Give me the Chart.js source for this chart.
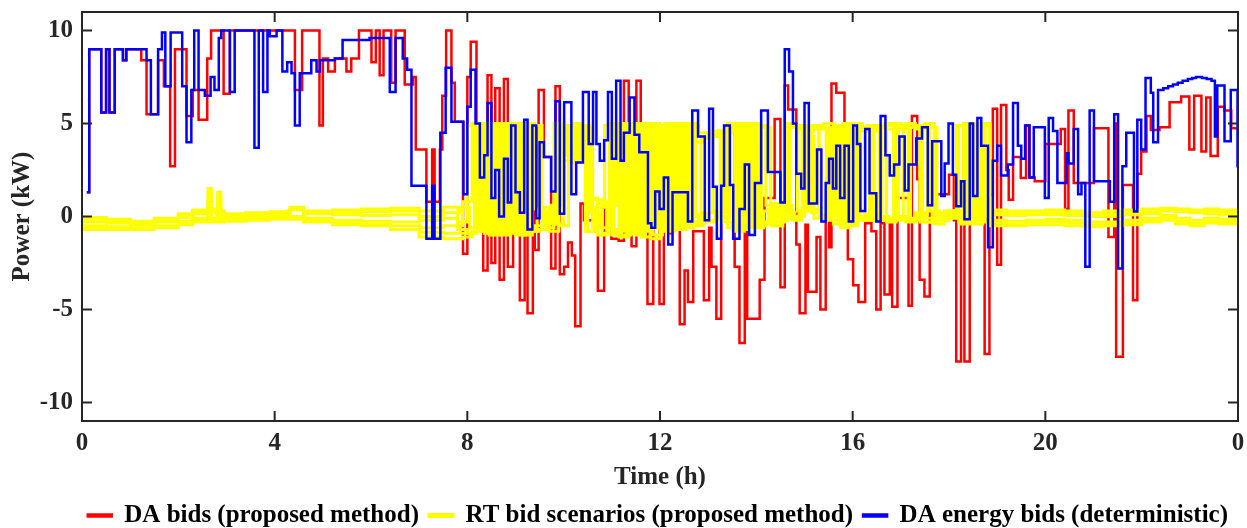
<!DOCTYPE html>
<html>
<head>
<meta charset="utf-8">
<script src="https://cdn.jsdelivr.net/npm/chart.js@4.4.1/dist/chart.umd.min.js"></script>
<style>
html, body { margin: 0; padding: 0; background: #fff; }
</style>
</head>
<body>
<canvas id="myChart" width="1247" height="528"></canvas>
<script>
// Osi
const xTicks = [0, 4, 8, 12, 16, 20, 24];
const xTickLabels = ["0", "4", "8", "12", "16", "20", "0"];
const yTicks = [-10, -5, 0, 5, 10];

// DA bids (proposed method) - casy zmien (h) a hodnoty (kW)
const daBidsT = [0.1, 0.15, 0.4, 0.5, 0.57, 0.68, 0.85, 0.92, 1.23, 1.34, 1.58, 1.7, 1.83, 1.93, 2.17, 2.3, 2.42, 2.6, 2.68, 2.94,
    3.07, 4.42, 4.57, 4.93, 5.0, 5.11, 5.25, 5.49, 5.59, 5.75, 6.01, 6.1, 6.18, 6.26, 6.42, 6.51, 6.7, 6.87, 6.93, 7.15,
    7.27, 7.32, 7.43, 7.48, 7.56, 7.67, 7.74, 7.91, 8.0, 8.07, 8.19, 8.33, 8.42, 8.5, 8.58, 8.67, 8.76, 8.84, 8.95, 9.09,
    9.19, 9.25, 9.36, 9.4, 9.48, 9.59, 9.74, 9.83, 9.92, 10.01, 10.09, 10.17, 10.24, 10.35, 10.42, 10.71, 10.84, 10.99, 11.14, 11.25,
    11.35, 11.41, 11.51, 11.6, 11.74, 11.86, 11.99, 12.08, 12.17, 12.26, 12.41, 12.51, 12.58, 12.69, 12.91, 13.02, 13.07, 13.17, 13.27, 13.33,
    13.55, 13.65, 13.76, 13.81, 14.07, 14.17, 14.38, 14.5, 14.59, 14.66, 14.83, 14.9, 15.02, 15.07, 15.25, 15.33, 15.44, 15.51, 15.56, 15.66,
    15.83, 15.9, 16.01, 16.12, 16.26, 16.39, 16.49, 16.58, 16.66, 16.77, 16.82, 16.93, 17.16, 17.23, 17.34, 17.39, 17.49, 17.6, 17.74, 18.0,
    18.1, 18.15, 18.25, 18.32, 18.43, 18.5, 18.67, 18.74, 18.84, 18.91, 19.0, 19.08, 19.19, 19.24, 19.33, 19.49, 19.6, 19.67, 19.78, 20.0,
    20.32, 20.41, 20.48, 20.59, 21.01, 21.31, 21.43, 21.47, 21.61, 21.82, 21.91, 21.99, 22.1, 22.19, 22.37, 22.58, 22.82, 22.99, 23.09, 23.24,
    23.34, 23.43, 23.58, 23.72, 23.86, 24];
const daBidsV = [1.3, 9.0, 5.6, 9.0, 5.6, 9.0, 8.4, 9.0, 8.4, 5.5, 8.4, 7.0, 2.7, 9.0, 5.4, 6.8, 5.2, 8.5, 10, 6.6,
    10, 6.8, 10, 4.9, 8.5, 7.8, 8.5, 7.8, 8.5, 10, 8.3, 10, 7.6, 10, 7.2, 10, 7.1, 7.5, 3.6, 0.8,
    3.6, 0.8, 3.6, 6.5, 10, 7.2, 5.1, -2.0, 7.5, 9.4, 1.8, -2.9, 7.6, -2.5, 6.9, -3.4, 7.4, -2.7, 2.0, -4.5,
    1.0, -5.2, 0.5, -1.8, 6.8, 3.2, -2.8, 7.0, -3.1, -2.7, -1.4, -2.1, -5.9, 0.7, -0.2, -4.0, 0.45, -1.2, -1.3, 7.3,
    1.0, -1.6, 7.3, 4.2, -4.7, 3.2, -4.7, 2.1, -0.9, 1.3, -5.8, -2.9, -4.6, -0.8, -4.5, -0.6, -2.7, -5.5, 1.65, 4.5,
    -2.7, -6.8, -0.6, -5.5, -3.4, 1.0, 5.25, -3.8, 7.05, 5.75, -1.5, -5.2, -0.45, -4.05, -1.1, -5.0, -0.15, -1.65, 7.15, 6.65,
    1.2, -2.3, -3.7, -4.6, -0.36, -0.8, -5.0, -0.36, -4.2, -0.36, -4.85, 1.0, -4.8, 5.4, 2.0, -3.4, -4.3, 0.6, 1.2, 2.25,
    -0.2, -7.8, -0.2, -7.8, 2.5, 4.05, 1.0, -7.4, 1.17, 5.8, -2.6, 6.0, 2.5, 0.9, 3.2, 2.07, 4.9, 2.1, 1.9, 3.9,
    4.7, 0.4, 5.7, 1.8, 4.75, -1.1, 5.0, -7.55, 1.7, -4.5, 2.3, 3.5, 5.4, 4.65, 4.8, 6.15, 6.45, 3.6, 6.5, 3.5,
    6.4, 3.25, 5.9, 5.7, 4.75, 4.75];

// DA energy bids (deterministic)
const detBidsT = [0.1, 0.15, 0.4, 0.5, 0.57, 0.68, 0.85, 0.92, 1.34, 1.43, 1.58, 1.66, 1.73, 1.84, 2.08, 2.17, 2.27, 2.33, 2.42, 2.55,
    2.67, 2.75, 2.84, 2.89, 3.07, 3.17, 3.58, 3.67, 3.76, 3.85, 3.9, 4.04, 4.16, 4.26, 4.35, 4.42, 4.52, 4.76, 4.87, 4.94,
    5.25, 5.41, 5.97, 6.39, 6.51, 6.66, 6.75, 6.84, 7.15, 7.27, 7.32, 7.44, 7.55, 7.67, 7.92, 8.0, 8.07, 8.17, 8.26, 8.35,
    8.42, 8.5, 8.58, 8.66, 8.76, 8.84, 8.91, 9.0, 9.09, 9.18, 9.25, 9.35, 9.43, 9.5, 9.59, 9.74, 9.83, 9.92, 10.01, 10.16,
    10.26, 10.4, 10.52, 10.61, 10.68, 10.75, 10.84, 10.92, 11.0, 11.09, 11.18, 11.25, 11.37, 11.47, 11.57, 11.75, 11.82, 11.9, 11.99, 12.08,
    12.17, 12.26, 12.58, 12.67, 12.79, 12.93, 13.02, 13.1, 13.18, 13.27, 13.33, 13.45, 13.52, 13.65, 13.76, 13.85, 13.97, 14.1, 14.24, 14.5,
    14.59, 14.68, 14.76, 14.83, 14.93, 15.0, 15.09, 15.26, 15.35, 15.44, 15.51, 15.59, 15.66, 15.74, 15.83, 15.92, 16.01, 16.09, 16.16, 16.26,
    16.35, 16.49, 16.58, 16.68, 16.77, 16.86, 16.97, 17.08, 17.16, 17.32, 17.44, 17.56, 17.65, 17.84, 17.91, 17.99, 18.08, 18.15, 18.25, 18.32,
    18.43, 18.5, 18.59, 18.67, 18.81, 18.91, 19.0, 19.08, 19.22, 19.33, 19.43, 19.5, 19.58, 19.67, 19.76, 19.99, 20.07, 20.16, 20.25, 20.44,
    20.48, 20.59, 20.68, 20.75, 20.83, 20.92, 21.01, 21.34, 21.43, 21.51, 21.6, 21.68, 21.84, 21.91, 21.99, 22.08, 22.19, 22.24, 22.34, 22.45,
    22.55, 22.65, 22.75, 22.85, 22.96, 23.05, 23.13, 23.25, 23.35, 23.45, 23.52, 23.57, 23.72, 23.85, 23.99, 24];
const detBidsV = [1.3, 9.0, 5.6, 9.0, 5.6, 9.0, 8.4, 9.0, 8.4, 5.5, 9.0, 9.9, 7.0, 9.9, 7.0, 4.0, 6.8, 10, 6.8, 6.5,
    7.5, 6.8, 9.6, 10, 6.7, 10, 3.7, 10, 6.7, 10, 9.7, 10, 7.8, 8.3, 7.7, 4.9, 7.7, 8.4, 7.8, 8.4,
    8.5, 9.5, 9.6, 6.7, 9.6, 8.5, 7.9, 1.65, -1.2, 1.65, -1.2, 4.5, 8.0, 5.1, 1.2, 5.9, 7.9, 5.0, 2.1, 3.3,
    6.1, 1.0, 2.5, 0.0, 3.1, 0.75, 4.9, 1.3, 0.2, 5.2, -0.7, 4.9, -0.1, 4.0, 3.2, 1.35, 6.2, 0.15, 6.15, 1.2,
    2.9, 6.7, 3.9, 6.7, 3.9, 3.0, 4.1, 6.7, 3.1, 7.3, 3.0, 4.5, 6.4, 4.4, 3.45, -0.36, -0.6, 1.35, 0.4, 2.1,
    -1.5, 1.3, -0.27, 5.7, 4.3, -0.2, 5.8, 1.6, -1.2, 1.65, 4.9, 1.7, -1.2, 0.4, 2.8, -1.0, 1.8, 5.7, 2.4, 0.75,
    9.0, 7.8, 5.0, 2.3, 1.5, 6.1, 0.7, 3.6, -0.27, 1.8, 3.1, 1.5, 3.8, 1.0, 3.8, -0.27, 4.9, 3.9, 0.3, 4.7,
    1.25, -0.27, 5.4, 3.3, 2.2, 2.8, 4.3, 1.4, 2.8, 4.2, 4.8, 0.6, 4.05, 1.1, 2.85, 5.0, 2.25, 0.55, 1.9, -0.15,
    5.0, 1.1, 5.3, 3.8, -1.65, 3.0, 3.8, 2.2, 2.8, 6.1, 3.8, 3.1, 4.9, 2.1, 4.8, 1.0, 5.3, 4.6, 1.8, 3.4,
    2.85, 4.7, 1.2, 1.8, -2.7, 5.7, 1.9, 0.8, 5.5, -2.8, 2.7, 4.5, 0.27, 5.2, 3.6, 7.45, 6.65, 4.0, 6.8, 6.9,
    7.0, 7.1, 7.2, 7.3, 7.4, 7.45, 7.5, 7.45, 7.4, 7.3, 4.3, 7.05, 4.05, 6.8, 2.7, 2.7];

// RT bid scenarios (proposed method): casy zmien
const bandLeftT = [0, 0.5, 1.0, 1.5, 2.0, 2.3, 2.62, 2.68, 2.75, 2.82, 2.88, 2.95, 3.4, 3.9, 4.25, 4.32, 4.6, 5.2, 5.8, 6.4, 7.0, 7.5];
const midTA = [7.8, 8.0, 8.2, 8.4, 8.6, 8.8, 9.0, 9.2, 9.4, 9.6, 9.8, 10.0, 10.2, 10.4, 10.6, 10.8, 11.0, 11.2, 11.4, 11.6,
    11.8, 12.0, 12.2, 12.4, 12.6, 12.8, 13.0, 13.2, 13.4, 13.6, 13.8, 14.0, 14.2, 14.4, 14.6, 14.8, 15.0, 15.2, 15.4, 15.6,
    15.8, 16.0, 16.2, 16.4, 16.6, 16.8, 17.0, 17.2, 17.4, 17.6, 17.8, 18.0, 18.2, 18.4, 18.6];
const midTB = [7.9, 8.1, 8.3, 8.5, 8.7, 8.9, 9.1, 9.3, 9.5, 9.7, 9.9, 10.1, 10.3, 10.5, 10.7, 10.9, 11.1, 11.3, 11.5, 11.7,
    11.9, 12.1, 12.3, 12.5, 12.7, 12.9, 13.1, 13.3, 13.5, 13.7, 13.9, 14.1, 14.3, 14.5, 14.7, 14.9, 15.1, 15.3, 15.5, 15.7,
    15.9, 16.1, 16.3, 16.5, 16.7, 16.9, 17.1, 17.3, 17.5, 17.7, 17.9, 18.1, 18.3, 18.5, 18.7];
const midTC = [7.85, 8.05, 8.25, 8.45, 8.65, 8.85, 9.05, 9.25, 9.45, 9.65, 9.85, 10.05, 10.25, 10.45, 10.65, 10.85, 11.05, 11.25, 11.45, 11.65,
    11.85, 12.05, 12.25, 12.45, 12.65, 12.85, 13.05, 13.25, 13.45, 13.65, 13.85, 14.05, 14.25, 14.45, 14.65, 14.85, 15.05, 15.25, 15.45, 15.65,
    15.85, 16.05, 16.25, 16.45, 16.65, 16.85, 17.05, 17.25, 17.45, 17.65, 17.85, 18.05, 18.25, 18.45, 18.65];
const midTD = [7.95, 8.15, 8.35, 8.55, 8.75, 8.95, 9.15, 9.35, 9.55, 9.75, 9.95, 10.15, 10.35, 10.55, 10.75, 10.95, 11.15, 11.35, 11.55, 11.75,
    11.95, 12.15, 12.35, 12.55, 12.75, 12.95, 13.15, 13.35, 13.55, 13.75, 13.95, 14.15, 14.35, 14.55, 14.75, 14.95, 15.15, 15.35, 15.55, 15.75,
    15.95, 16.15, 16.35, 16.55, 16.75, 16.95, 17.15, 17.35, 17.55, 17.75, 17.95, 18.15, 18.35, 18.55, 18.75];
const bandRightT = [18.85, 19.2, 19.6, 20.0, 20.4, 20.8, 21.2, 21.6, 22.0, 22.4, 22.7, 23.0, 23.3, 23.6, 24];

// hodnoty scenarov
const rt1Left = [-0.05, -0.15, -0.25, -0.1, 0.15, 0.35, 1.5, 0.4, 0.4, 1.3, 0.3, 0.15, 0.2, 0.25, 0.3, 0.5, 0.3, 0.35, 0.4, 0.45, 0.3, 0.5];
const rt2Left = [-0.3, -0.35, -0.45, -0.3, -0.05, 0.15, 1.2, 0.2, 0.2, 1.0, 0.1, 0.0, 0.05, 0.1, 0.15, 0.35, 0.15, 0.1, 0.05, 0.1, -0.2, -0.1];
const rt3Left = [-0.5, -0.55, -0.6, -0.5, -0.25, -0.1, 0.8, -0.1, -0.1, 0.6, -0.15, -0.1, -0.05, 0.0, 0.0, 0.0, -0.1, -0.2, -0.25, -0.3, -0.6, -0.5];
const rt4Left = [-0.7, -0.7, -0.7, -0.6, -0.45, -0.3, 0.4, -0.3, -0.3, 0.2, -0.3, -0.25, -0.2, -0.15, -0.15, -0.15, -0.3, -0.45, -0.5, -0.7, -1.1, -1.2];
const rt5Left = [-0.15, -0.25, -0.35, -0.2, 0.05, 0.25, 1.35, 0.3, 0.3, 1.15, 0.2, 0.1, 0.1, 0.2, 0.2, 0.45, 0.2, 0.2, 0.25, 0.3, 0.0, 0.2];
const rt6Left = [-0.6, -0.65, -0.65, -0.55, -0.35, -0.2, 0.6, -0.2, -0.2, 0.4, -0.2, -0.2, -0.1, -0.1, -0.05, -0.05, -0.2, -0.35, -0.4, -0.5, -0.85, -0.9];

const rt1Mid = [-0.3, 4.9, -0.8, 5.0, -0.9, 4.9, -1.0, 5.0, 0.4, -0.6,
    5.0, 3.0, 5.0, 3.2, 0.9, -0.9, 5.0, -1.0, 4.9, -1.1,
    5.0, -0.7, 5.0, -0.5, 4.9, 4.5, 4.4, 4.6, -0.6, 5.0,
    -0.4, 4.9, 0.6, -0.3, 5.0, 4.8, 4.6, 4.9, 5.0, -0.4,
    5.0, 5.0, 4.8, -0.2, 4.9, 5.0, 4.7, -0.1, 4.9, 0.3,
    0.2, 0.1, 4.9, -0.2, 5.0];
const rt2Mid = [-0.7, -0.9, 4.9, -0.6, 5.0, -0.8, 4.8, -0.7, -0.5, 0.5,
    -0.4, 4.9, 3.4, 4.8, -0.6, 0.8, -1.0, 4.9, -0.8, 5.0,
    -1.2, 4.9, -0.5, 5.0, -0.3, 0.1, -0.2, 0.0, 5.0, -0.7,
    4.8, -0.5, -0.4, 0.5, 0.2, 0.0, 4.3, -0.1, 0.1, 4.9,
    -0.3, -0.1, 0.0, 4.6, -0.2, -0.1, 0.0, 4.8, -0.3, -0.3,
    -0.2, 0.0, -0.3, 5.0, -0.2];
const rt3Mid = [0.8, 5.0, -0.7, 4.8, -1.0, 5.0, -0.9, 4.9, 0.2, -0.8,
    4.8, 2.9, 4.9, 1.0, -1.0, 0.6, 4.9, -0.9, 5.0, -0.6,
    4.8, -0.8, 4.9, -0.6, 4.0, 4.2, 0.3, 4.5, 4.9, -0.6,
    5.0, -0.3, 0.7, 0.0, 4.9, 4.7, 0.4, 4.8, -0.2, 4.9,
    -0.5, 4.6, 4.9, 4.8, -0.3, 4.9, 5.0, 4.7, 5.0, 0.0,
    0.3, -0.1, 5.0, -0.4, 4.9];
const rt4Mid = [-1.1, -0.8, 5.0, -0.9, 4.9, -0.7, 5.0, -0.8, -0.7, 0.4,
    -0.5, 4.7, 3.6, -0.8, 0.7, -0.9, -0.7, 5.0, -1.0, 4.9,
    -0.6, 5.0, -0.7, 4.8, -0.5, 0.2, 4.3, -0.3, -0.7, 4.9,
    -0.5, 4.8, -0.5, 0.3, -0.1, 0.3, 4.9, 0.0, 4.6, -0.4,
    5.0, -0.2, 0.1, -0.1, 4.7, 0.0, -0.3, 0.2, -0.1, -0.4,
    0.1, 0.2, -0.3, 4.8, -0.1];
const rt5Mid = [0.5, -0.6, 4.8, -1.0, 5.0, -0.9, 4.9, -0.8, 0.3, -0.4,
    4.9, 3.3, 4.8, -0.8, 0.5, 4.9, -0.8, 5.0, -0.9, 4.8,
    -1.0, 4.9, -0.6, 4.9, -0.4, 4.3, 4.6, -0.1, 4.9, -0.6,
    5.0, -0.4, 0.4, -0.2, 4.8, 0.3, 4.9, 4.7, 0.1, 4.9,
    -0.4, 4.8, -0.1, 4.9, 5.0, -0.2, 4.8, 4.9, -0.3, 0.2,
    -0.1, 0.3, -0.4, 4.9, -0.3];
const rt6Mid = [-0.9, 4.9, -0.9, 5.0, -0.8, 4.8, -1.0, 4.9, -0.3, 0.6,
    4.6, 3.1, 4.9, 0.2, -0.6, 5.0, -1.1, 4.9, -0.8, 5.0,
    -0.5, 4.8, -0.7, 5.0, 0.0, -0.3, 0.2, 4.9, -0.8, 5.0,
    -0.6, 0.3, -0.5, 0.6, -0.2, 4.9, 0.2, -0.1, 4.8, -0.6,
    4.9, -0.2, 4.7, 0.0, -0.1, 4.9, -0.2, 0.1, 4.8, -0.2,
    0.3, 4.9, -0.3, 5.0, -0.2];

const rt1Right = [0.35, 0.3, 0.3, 0.35, 0.3, 0.2, 0.3, 0.35, 0.4, 0.45, 0.4, 0.35, 0.4, 0.35, 0.4];
const rt2Right = [0.1, 0.05, 0.1, 0.1, 0.05, 0.0, 0.0, 0.1, 0.15, 0.3, 0.25, 0.2, 0.15, 0.1, 0.2];
const rt3Right = [-0.2, -0.25, -0.2, -0.15, -0.2, -0.3, -0.3, -0.2, -0.1, 0.05, -0.1, -0.2, -0.1, -0.15, 0.0];
const rt4Right = [-0.5, -0.5, -0.45, -0.45, -0.5, -0.55, -0.5, -0.45, -0.3, -0.2, -0.4, -0.5, -0.35, -0.4, -0.2];
const rt5Right = [0.2, 0.15, 0.2, 0.2, 0.15, 0.1, 0.15, 0.2, 0.25, 0.4, 0.35, 0.3, 0.3, 0.25, 0.3];
const rt6Right = [-0.35, -0.4, -0.35, -0.3, -0.35, -0.45, -0.4, -0.35, -0.2, -0.1, -0.25, -0.35, -0.25, -0.3, -0.1];

const FONT = "'Liberation Serif', 'Times New Roman', serif";

function toPoints(times, values) {
    return times.map((t, i) => ({ x: t, y: values[i] }));
}

function scenario(left, mid, midT, right, showLegend) {
    return {
        label: "RT bid scenarios (proposed method)",
        data: toPoints(bandLeftT.concat(midT, bandRightT), left.concat(mid, right)),
        borderColor: "#ffff00",
        backgroundColor: "#ffff00",
        borderWidth: 3,
        stepped: "before",
        pointRadius: 0,
        hideInLegend: !showLegend
    };
}

// ramcek a vnutorne tick znacky ako v MATLABe
const framePlugin = {
    id: "frame",
    afterDraw(chart) {
        const { ctx, chartArea: a, scales } = chart;
        ctx.save();
        ctx.strokeStyle = "#262626";
        ctx.lineWidth = 2;
        ctx.strokeRect(a.left, a.top, a.right - a.left, a.bottom - a.top);
        ctx.beginPath();
        xTicks.forEach(v => {
            const px = scales.x.getPixelForValue(v);
            ctx.moveTo(px, a.bottom); ctx.lineTo(px, a.bottom - 10);
            ctx.moveTo(px, a.top); ctx.lineTo(px, a.top + 10);
        });
        yTicks.forEach(v => {
            const py = scales.y.getPixelForValue(v);
            ctx.moveTo(a.left, py); ctx.lineTo(a.left + 10, py);
            ctx.moveTo(a.right, py); ctx.lineTo(a.right - 10, py);
        });
        ctx.stroke();
        ctx.restore();
    }
};

const ctx = document.getElementById("myChart").getContext("2d");
const myChart = new Chart(ctx, {
    type: "line",
    data: {
        datasets: [
            {
                label: "DA energy bids (deterministic)",
                data: toPoints(detBidsT, detBidsV),
                borderColor: "#0000ff",
                backgroundColor: "#0000ff",
                borderWidth: 2.5,
                stepped: "before",
                pointRadius: 0
            },
            scenario(rt1Left, rt1Mid, midTA, rt1Right, true),
            scenario(rt2Left, rt2Mid, midTA, rt2Right, false),
            scenario(rt3Left, rt3Mid, midTB, rt3Right, false),
            scenario(rt4Left, rt4Mid, midTB, rt4Right, false),
            scenario(rt5Left, rt5Mid, midTC, rt5Right, false),
            scenario(rt6Left, rt6Mid, midTD, rt6Right, false),
            {
                label: "DA bids (proposed method)",
                data: toPoints(daBidsT, daBidsV),
                borderColor: "#ff0000",
                backgroundColor: "#ff0000",
                borderWidth: 2.5,
                stepped: "before",
                pointRadius: 0
            }
        ]
    },
    options: {
        responsive: false,
        animation: false,
        layout: { padding: { top: 12, right: 9, left: 0, bottom: 0 } },
        plugins: {
            tooltip: { enabled: false },
            legend: {
                position: "bottom",
                align: "end",
                reverse: true,
                maxHeight: 35,
                labels: {
                    color: "#000",
                    font: { family: FONT, size: 25, weight: "bold" },
                    boxWidth: 24,
                    boxHeight: 2,
                    padding: 10,
                    filter: (item, data) => !data.datasets[item.datasetIndex].hideInLegend
                }
            }
        },
        scales: {
            x: {
                type: "linear",
                min: 0,
                max: 24,
                grid: { display: false, drawTicks: false },
                border: { display: false },
                afterBuildTicks: scale => { scale.ticks = xTicks.map(v => ({ value: v })); },
                afterFit: scale => {
                    scale.height = 528 - 421 - scale.chart.legend.height;
                    scale.paddingLeft = 0;
                    scale.paddingRight = 0;
                },
                ticks: {
                    color: "#262626",
                    padding: 8,
                    maxRotation: 0,
                    font: { family: FONT, size: 25, weight: "bold" },
                    callback: value => xTickLabels[xTicks.indexOf(value)]
                },
                title: {
                    display: true,
                    text: "Time (h)",
                    color: "#262626",
                    padding: { top: 0, bottom: 0 },
                    font: { family: FONT, size: 25, weight: "bold" }
                }
            },
            y: {
                min: -11,
                max: 11,
                grid: { display: false, drawTicks: false },
                border: { display: false },
                afterBuildTicks: scale => { scale.ticks = yTicks.map(v => ({ value: v })); },
                afterFit: scale => {
                    scale.width = 82;
                    scale.paddingTop = 0;
                    scale.paddingBottom = 0;
                },
                ticks: {
                    color: "#262626",
                    padding: 9,
                    font: { family: FONT, size: 25, weight: "bold" }
                },
                title: {
                    display: true,
                    text: "Power (kW)",
                    color: "#262626",
                    padding: { top: 8, bottom: 0 },
                    font: { family: FONT, size: 25, weight: "bold" }
                }
            }
        }
    },
    plugins: [framePlugin]
});
</script>
</body>
</html>
